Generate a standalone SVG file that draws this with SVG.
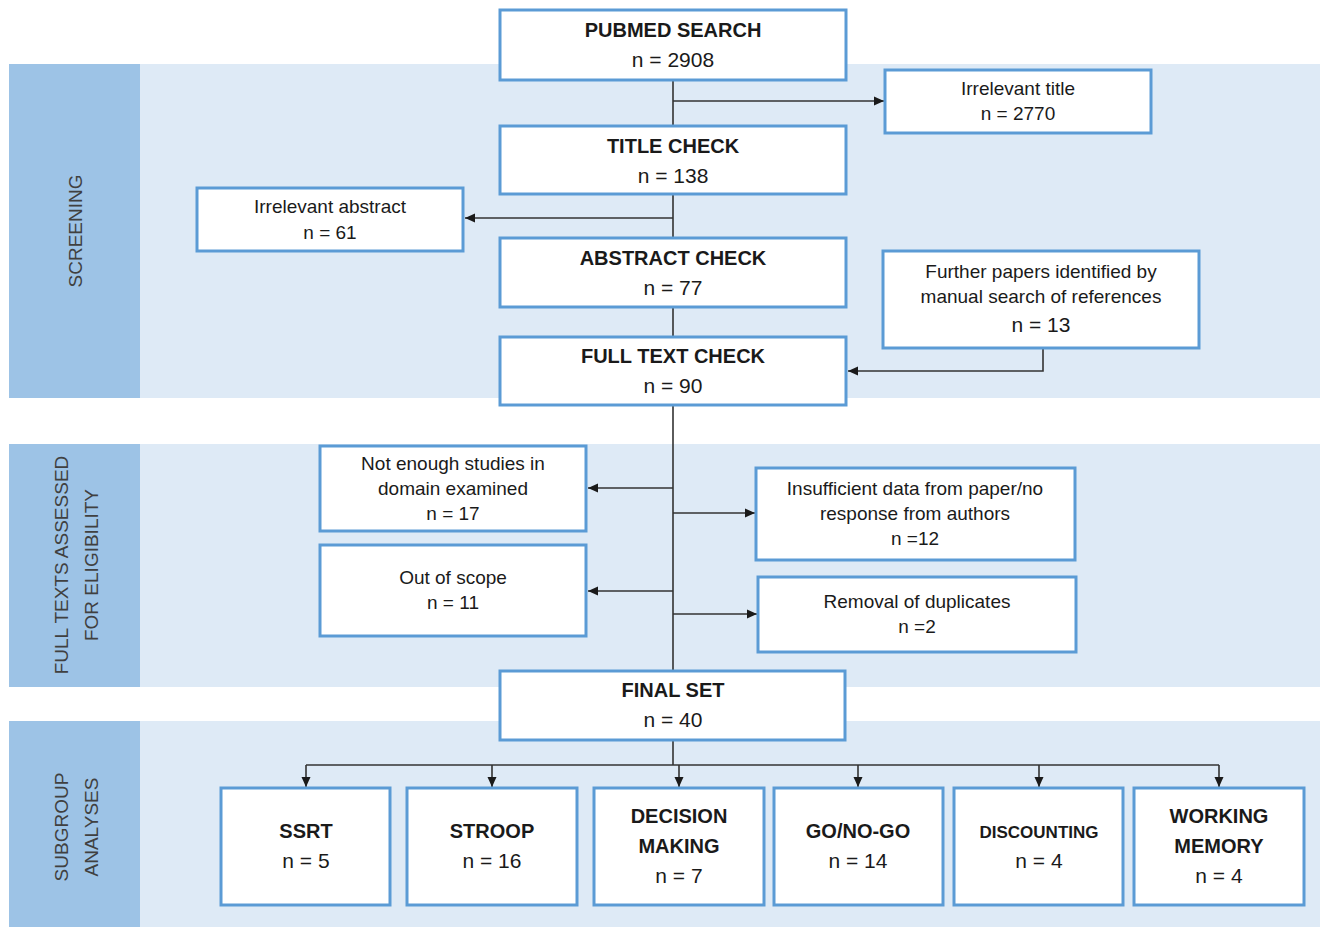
<svg xmlns="http://www.w3.org/2000/svg" width="1326" height="927" viewBox="0 0 1326 927">
<defs>
<style>
.band{fill:#DEEAF6}
.side{fill:#9DC3E6}
.box{fill:#FFFFFF;stroke:#5B9BD5;stroke-width:3}
.t{font-family:"Liberation Sans",Arial,sans-serif;fill:#1a1a1a;text-anchor:middle}
.h{font-size:20px;font-weight:bold}
.n{font-size:21px}
.s{font-size:19px}
.lab{font-family:"Liberation Sans",Arial,sans-serif;fill:#404040;font-size:19px;text-anchor:middle;dominant-baseline:central}
.ln{fill:none;stroke:#333333;stroke-width:1.6}
</style>
<marker id="ah" viewBox="0 0 10 10" refX="10" refY="5" markerWidth="10" markerHeight="10" markerUnits="userSpaceOnUse" orient="auto">
<path d="M0,0.5 L10,5 L0,9.5 z" fill="#1a1a1a"/>
</marker>
</defs>
<rect width="1326" height="927" fill="#FFFFFF"/>
<g id="bands">
<rect class="band" x="9" y="64" width="1311" height="334"/>
<rect class="side" x="9" y="64" width="131" height="334"/>
<rect class="band" x="9" y="444" width="1311" height="243"/>
<rect class="side" x="9" y="444" width="131" height="243"/>
<rect class="band" x="9" y="721" width="1311" height="206"/>
<rect class="side" x="9" y="721" width="131" height="206"/>
<text class="lab" transform="translate(75,231) rotate(-90)">SCREENING</text>
<text class="lab" transform="translate(61,565) rotate(-90)">FULL TEXTS ASSESSED</text>
<text class="lab" transform="translate(91,565) rotate(-90)">FOR ELIGIBILITY</text>
<text class="lab" transform="translate(61,827) rotate(-90)">SUBGROUP</text>
<text class="lab" transform="translate(91,827) rotate(-90)">ANALYSES</text>
</g>
<g id="connectors">
<path class="ln" d="M673,80 V671"/>
<path class="ln" d="M673,101 H884" marker-end="url(#ah)"/>
<path class="ln" d="M673,218 H465" marker-end="url(#ah)"/>
<path class="ln" d="M1043,348 V371 H848" marker-end="url(#ah)"/>
<path class="ln" d="M673,488 H588" marker-end="url(#ah)"/>
<path class="ln" d="M673,513 H755" marker-end="url(#ah)"/>
<path class="ln" d="M673,591 H588" marker-end="url(#ah)"/>
<path class="ln" d="M673,614 H757" marker-end="url(#ah)"/>
<path class="ln" d="M673,740 V765"/>
<path class="ln" d="M306,765 H1219"/>
<path class="ln" d="M306,765 V787" marker-end="url(#ah)"/>
<path class="ln" d="M492,765 V787" marker-end="url(#ah)"/>
<path class="ln" d="M679,765 V787" marker-end="url(#ah)"/>
<path class="ln" d="M858,765 V787" marker-end="url(#ah)"/>
<path class="ln" d="M1039,765 V787" marker-end="url(#ah)"/>
<path class="ln" d="M1219,765 V787" marker-end="url(#ah)"/>
</g>
<g id="pubmed">
<rect class="box" x="500" y="10" width="346" height="70"/>
<text class="t h" x="673" y="37">PUBMED SEARCH</text>
<text class="t n" x="673" y="67">n = 2908</text>
</g>
<g id="irrelevant-title">
<rect class="box" x="885" y="70" width="266" height="63"/>
<text class="t s" x="1018" y="95">Irrelevant title</text>
<text class="t s" x="1018" y="120">n = 2770</text>
</g>
<g id="title-check">
<rect class="box" x="500" y="126" width="346" height="68"/>
<text class="t h" x="673" y="153">TITLE CHECK</text>
<text class="t n" x="673" y="183">n = 138</text>
</g>
<g id="irrelevant-abstract">
<rect class="box" x="197" y="188" width="266" height="63"/>
<text class="t s" x="330" y="213">Irrelevant abstract</text>
<text class="t s" x="330" y="239">n = 61</text>
</g>
<g id="abstract-check">
<rect class="box" x="500" y="238" width="346" height="69"/>
<text class="t h" x="673" y="265">ABSTRACT CHECK</text>
<text class="t n" x="673" y="295">n = 77</text>
</g>
<g id="further-papers">
<rect class="box" x="883" y="251" width="316" height="97"/>
<text class="t s" x="1041" y="278">Further papers identified by</text>
<text class="t s" x="1041" y="303">manual search of references</text>
<text class="t n" x="1041" y="332">n = 13</text>
</g>
<g id="full-text-check">
<rect class="box" x="500" y="337" width="346" height="68"/>
<text class="t h" x="673" y="363">FULL TEXT CHECK</text>
<text class="t n" x="673" y="393">n = 90</text>
</g>
<g id="not-enough">
<rect class="box" x="320" y="446" width="266" height="85"/>
<text class="t s" x="453" y="470">Not enough studies in</text>
<text class="t s" x="453" y="495">domain examined</text>
<text class="t s" x="453" y="520">n = 17</text>
</g>
<g id="insufficient-data">
<rect class="box" x="756" y="468" width="319" height="92"/>
<text class="t s" x="915" y="495">Insufficient data from paper/no</text>
<text class="t s" x="915" y="520">response from authors</text>
<text class="t s" x="915" y="545">n =12</text>
</g>
<g id="out-of-scope">
<rect class="box" x="320" y="545" width="266" height="91"/>
<text class="t s" x="453" y="584">Out of scope</text>
<text class="t s" x="453" y="609">n = 11</text>
</g>
<g id="duplicates">
<rect class="box" x="758" y="577" width="318" height="75"/>
<text class="t s" x="917" y="608">Removal of duplicates</text>
<text class="t s" x="917" y="633">n =2</text>
</g>
<g id="final-set">
<rect class="box" x="500" y="671" width="345" height="69"/>
<text class="t h" x="673" y="697">FINAL SET</text>
<text class="t n" x="673" y="727">n = 40</text>
</g>
<g id="ssrt">
<rect class="box" x="221" y="788" width="169" height="117"/>
<text class="t h" x="306" y="838">SSRT</text>
<text class="t n" x="306" y="868">n = 5</text>
</g>
<g id="stroop">
<rect class="box" x="407" y="788" width="170" height="117"/>
<text class="t h" x="492" y="838">STROOP</text>
<text class="t n" x="492" y="868">n = 16</text>
</g>
<g id="decision-making">
<rect class="box" x="594" y="788" width="170" height="117"/>
<text class="t h" x="679" y="823">DECISION</text>
<text class="t h" x="679" y="853">MAKING</text>
<text class="t n" x="679" y="883">n = 7</text>
</g>
<g id="go-no-go">
<rect class="box" x="774" y="788" width="169" height="117"/>
<text class="t h" x="858" y="838">GO/NO-GO</text>
<text class="t n" x="858" y="868">n = 14</text>
</g>
<g id="discounting">
<rect class="box" x="954" y="788" width="169" height="117"/>
<text class="t" style="font-size:17px;font-weight:bold" x="1039" y="838">DISCOUNTING</text>
<text class="t n" x="1039" y="868">n = 4</text>
</g>
<g id="working-memory">
<rect class="box" x="1134" y="788" width="170" height="117"/>
<text class="t h" x="1219" y="823">WORKING</text>
<text class="t h" x="1219" y="853">MEMORY</text>
<text class="t n" x="1219" y="883">n = 4</text>
</g>
</svg>
